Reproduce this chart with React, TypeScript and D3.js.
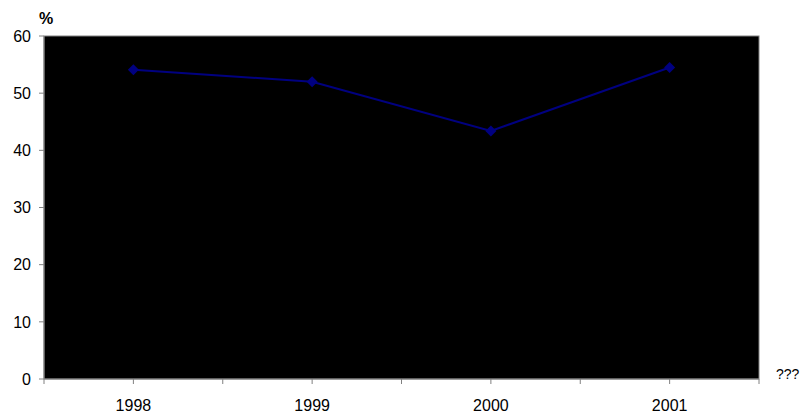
import React from "react";
import * as d3 from "d3";

const categories = ["1998", "1999", "2000", "2001"];
const values = [54.1, 52.0, 43.4, 54.5];
const yTicks = [0, 10, 20, 30, 40, 50, 60];
const yLabel = "%";
const xLabel = "???";

export default function App() {
  const W = 800, H = 415;
  const left = 44, right = 759, top = 36, bottom = 379;
  const x = d3.scaleBand().domain(categories).range([left, right]).padding(0);
  const y = d3.scaleLinear().domain([0, 60]).range([bottom, top]);
  const line = d3.line<number>()
    .x((_, i) => (x(categories[i]) as number) + x.bandwidth() / 2)
    .y((d) => y(d));
  const bw = x.bandwidth();
  const xTickPos: number[] = [];
  categories.forEach((c) => {
    const s = x(c) as number;
    xTickPos.push(s, s + bw / 2);
  });
  xTickPos.push(right);
  const font = "'Liberation Sans', Arial, sans-serif";
  return (
    <svg width={W} height={H} style={{ position: "absolute", left: 0, top: 0, background: "#fff" }}>
      <rect x={left} y={top} width={right - left} height={bottom - top} fill="#000" stroke="#808080" strokeWidth={1} />
      {yTicks.map((t) => (
        <g key={t}>
          <line x1={left - 5} x2={left} y1={y(t)} y2={y(t)} stroke="#808080" />
          <text x={31} y={y(t)} dy="0.36em" textAnchor="end" fontFamily={font} fontSize={16} fill="#000">{t}</text>
        </g>
      ))}
      <line x1={left} x2={left} y1={top} y2={bottom} stroke="#808080" />
      <line x1={left} x2={right} y1={bottom} y2={bottom} stroke="#808080" />
      {xTickPos.map((p, i) => (
        <line key={i} x1={p} x2={p} y1={bottom} y2={bottom + 5} stroke="#808080" />
      ))}
      {categories.map((c) => (
        <text key={c} x={(x(c) as number) + bw / 2} y={411} textAnchor="middle" fontFamily={font} fontSize={16} fill="#000">{c}</text>
      ))}
      <text x={39} y={24} fontFamily={font} fontSize={16} fontWeight="bold" fill="#000">{yLabel}</text>
      <text x={776} y={379} fontFamily={font} fontSize={14} fill="#000">{xLabel}</text>
      <path d={line(values) || ""} fill="none" stroke="#000080" strokeWidth={2} />
      {values.map((v, i) => {
        const cx = (x(categories[i]) as number) + bw / 2;
        const cy = y(v);
        return <path key={i} d={`M${cx},${cy - 5.5}L${cx + 5.5},${cy}L${cx},${cy + 5.5}L${cx - 5.5},${cy}Z`} fill="#000080" />;
      })}
    </svg>
  );
}
